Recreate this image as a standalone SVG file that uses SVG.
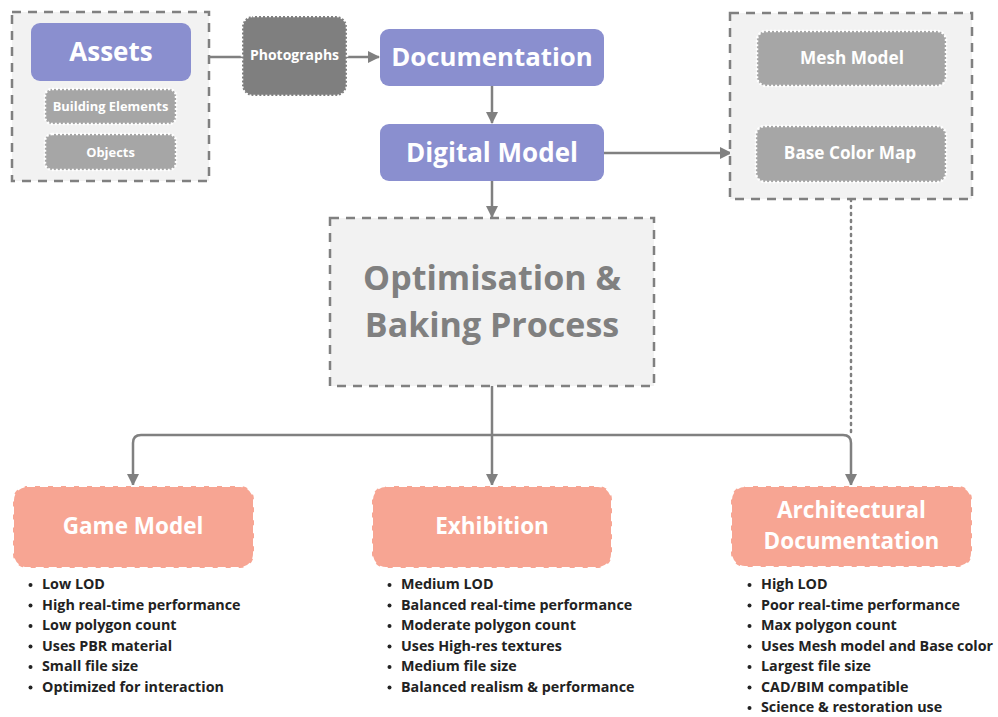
<svg xmlns="http://www.w3.org/2000/svg" width="998" height="717" viewBox="0 0 998 717">
  <defs>
    <marker id="arrow" viewBox="0 0 12 12" refX="11" refY="6" markerWidth="12" markerHeight="12" markerUnits="userSpaceOnUse" orient="auto">
      <path d="M0,0 L12,6 L0,12 Z" fill="#808080"/>
    </marker>
    <style>
      text { font-family: "Open Sans", "Liberation Sans", sans-serif; font-weight: 700; }
      .group { fill: #f2f2f2; stroke: #808080; stroke-width: 2.5; stroke-dasharray: 9 7; }
      .primary { fill: #8a8fcf; }
      .sub { fill: #a6a6a6; stroke: #ffffff; stroke-width: 2.5; stroke-dasharray: 2 2; }
      .photo { fill: #7f7f7f; stroke: #ffffff; stroke-width: 2.5; stroke-dasharray: 2 2; }
      .output { fill: #f7a593; stroke: #ffffff; stroke-width: 2; stroke-dasharray: 8 5; }
      .wt { fill: #ffffff; text-anchor: middle; }
      .conn { fill: none; stroke: #808080; stroke-width: 2.5; }
      .list { fill: #222222; font-size: 14.3px; }
    </style>
  </defs>

  <!-- connectors -->
  <g id="connectors">
    <path class="conn" d="M209,57 H243"/>
    <path class="conn" d="M347,57 H379" marker-end="url(#arrow)"/>
    <path class="conn" d="M492,86 V123" marker-end="url(#arrow)"/>
    <path class="conn" d="M604,153 H731" marker-end="url(#arrow)"/>
    <path class="conn" d="M492,181 V217" marker-end="url(#arrow)"/>
    <path class="conn" d="M492,386 V435"/>
    <path class="conn" d="M492,435 H141 Q133,435 133,443 V485" marker-end="url(#arrow)"/>
    <path class="conn" d="M492,435 V485" marker-end="url(#arrow)"/>
    <path class="conn" d="M492,435 H843 Q851,435 851,443 V485" marker-end="url(#arrow)"/>
    <path class="conn" d="M851,199 V435" stroke-dasharray="2 5" stroke-linecap="round"/>
  </g>

  <!-- source assets -->
  <g id="assets-group">
    <rect class="group" x="12" y="12" width="197" height="169"/>
  </g>
  <g id="assets">
    <rect class="primary" x="31" y="23" width="160" height="58" rx="9"/>
    <text class="wt" x="111" y="61" font-size="26">Assets</text>
  </g>
  <g id="building-elements">
    <rect class="sub" x="45" y="89" width="131" height="35" rx="7"/>
    <text class="wt" x="110.5" y="111" font-size="12.9">Building Elements</text>
  </g>
  <g id="objects">
    <rect class="sub" x="45" y="134" width="131" height="36" rx="7"/>
    <text class="wt" x="110.5" y="156.5" font-size="12.9">Objects</text>
  </g>

  <g id="photographs">
    <rect class="photo" x="242" y="16" width="105" height="80" rx="11"/>
    <text class="wt" x="294.5" y="60" font-size="14">Photographs</text>
  </g>

  <g id="documentation">
    <rect class="primary" x="380" y="29" width="224" height="57" rx="9"/>
    <text class="wt" x="492" y="66" font-size="25.8">Documentation</text>
  </g>

  <g id="digital-model">
    <rect class="primary" x="380" y="124" width="224" height="57" rx="9"/>
    <text class="wt" x="492" y="162" font-size="26">Digital Model</text>
  </g>

  <!-- model outputs -->
  <g id="outputs-group">
    <rect class="group" x="730" y="13" width="242" height="186"/>
  </g>
  <g id="mesh-model">
    <rect class="sub" x="757" y="31" width="189" height="55" rx="9"/>
    <text class="wt" x="852" y="64" font-size="17.2">Mesh Model</text>
  </g>
  <g id="base-color-map">
    <rect class="sub" x="756" y="126" width="190" height="56" rx="9"/>
    <text class="wt" x="850" y="159" font-size="17.2">Base Color Map</text>
  </g>

  <g id="optimisation">
    <rect class="group" x="330" y="218" width="324" height="168"/>
    <text x="492" y="290" font-size="34" fill="#808080" text-anchor="middle">Optimisation &amp;</text>
    <text x="492" y="337" font-size="34" fill="#808080" text-anchor="middle">Baking Process</text>
  </g>

  <!-- targets -->
  <g id="game-model">
    <rect class="output" x="13" y="486" width="241" height="82" rx="14"/>
    <text class="wt" x="133" y="534" font-size="22.5">Game Model</text>
    <g class="list">
      <circle cx="30.5" cy="585" r="2" fill="#222"/>
      <circle cx="30.5" cy="605.5" r="2" fill="#222"/>
      <circle cx="30.5" cy="626" r="2" fill="#222"/>
      <circle cx="30.5" cy="646.5" r="2" fill="#222"/>
      <circle cx="30.5" cy="667" r="2" fill="#222"/>
      <circle cx="30.5" cy="687.5" r="2" fill="#222"/>
      <text x="42" y="589">Low LOD</text>
      <text x="42" y="609.5">High real-time performance</text>
      <text x="42" y="630">Low polygon count</text>
      <text x="42" y="650.5">Uses PBR material</text>
      <text x="42" y="671">Small file size</text>
      <text x="42" y="691.5">Optimized for interaction</text>
    </g>
  </g>

  <g id="exhibition">
    <rect class="output" x="372" y="486" width="240" height="82" rx="14"/>
    <text class="wt" x="492" y="534" font-size="22.5">Exhibition</text>
    <g class="list">
      <circle cx="389.5" cy="585" r="2" fill="#222"/>
      <circle cx="389.5" cy="605.5" r="2" fill="#222"/>
      <circle cx="389.5" cy="626" r="2" fill="#222"/>
      <circle cx="389.5" cy="646.5" r="2" fill="#222"/>
      <circle cx="389.5" cy="667" r="2" fill="#222"/>
      <circle cx="389.5" cy="687.5" r="2" fill="#222"/>
      <text x="401" y="589">Medium LOD</text>
      <text x="401" y="609.5">Balanced real-time performance</text>
      <text x="401" y="630">Moderate polygon count</text>
      <text x="401" y="650.5">Uses High-res textures</text>
      <text x="401" y="671">Medium file size</text>
      <text x="401" y="691.5">Balanced realism &amp; performance</text>
    </g>
  </g>

  <g id="architectural-documentation">
    <rect class="output" x="731" y="486" width="241" height="81" rx="14"/>
    <text class="wt" x="851.5" y="518" font-size="22.5">Architectural</text>
    <text class="wt" x="851.5" y="549" font-size="22.5">Documentation</text>
    <g class="list">
      <circle cx="749.5" cy="585" r="2" fill="#222"/>
      <circle cx="749.5" cy="605.5" r="2" fill="#222"/>
      <circle cx="749.5" cy="626" r="2" fill="#222"/>
      <circle cx="749.5" cy="646.5" r="2" fill="#222"/>
      <circle cx="749.5" cy="667" r="2" fill="#222"/>
      <circle cx="749.5" cy="687.5" r="2" fill="#222"/>
      <circle cx="749.5" cy="708" r="2" fill="#222"/>
      <text x="761" y="589">High LOD</text>
      <text x="761" y="609.5">Poor real-time performance</text>
      <text x="761" y="630">Max polygon count</text>
      <text x="761" y="650.5">Uses Mesh model and Base color</text>
      <text x="761" y="671">Largest file size</text>
      <text x="761" y="691.5">CAD/BIM compatible</text>
      <text x="761" y="712">Science &amp; restoration use</text>
    </g>
  </g>
</svg>
